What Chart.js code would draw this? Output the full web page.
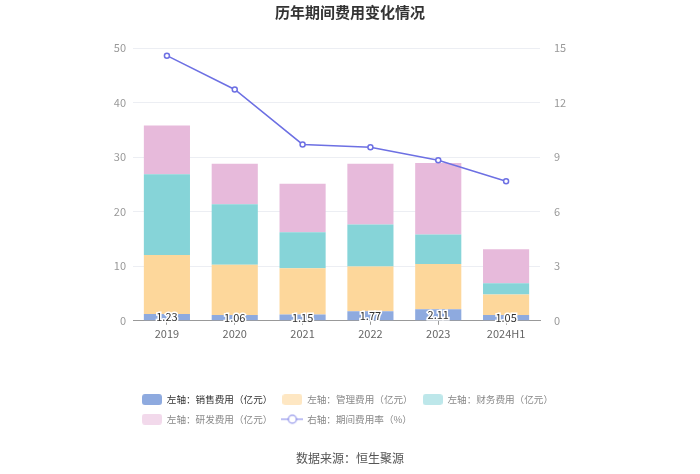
<!DOCTYPE html>
<html>
<head>
<meta charset="utf-8">
<script src="https://cdn.jsdelivr.net/npm/chart.js@4/dist/chart.umd.min.js"></script>
<style>
  html, body { margin: 0; padding: 0; background: #fff; }
  #wrap { width: 700px; height: 474px; }
</style>
</head>
<body>
<div id="wrap"><canvas id="feeChart" width="700" height="474"></canvas></div>
<script>
// --- Data ---
const years = ['2019', '2020', '2021', '2022', '2023', '2024H1'];
const salesFee   = [1.23, 1.06, 1.15, 1.77, 2.11, 1.05];
const adminFee   = [10.85, 9.23, 8.47, 8.16, 8.31, 3.79];
const financeFee = [14.76, 11.09, 6.62, 7.72, 5.39, 2.02];
const rndFee     = [8.95, 7.42, 8.88, 11.15, 13.11, 6.25];
const feeRate    = [14.58, 12.72, 9.70, 9.54, 8.83, 7.67];
const leftTicks  = [0, 10, 20, 30, 40, 50];
const rightTicks = [0, 3, 6, 9, 12, 15];

const FONT = "'Noto Sans CJK SC', 'Noto Sans', sans-serif";
const colors = {
    sales: '#8eaadf',
    admin: '#fdd79b',
    finance: '#86d4d8',
    rnd: '#e7badb',
    line: '#6d70e3'
};

// --- Legend icons (small canvases used as point styles) ---
function boxIcon(color) {
    const c = document.createElement('canvas');
    c.width = 20; c.height = 11;
    const g = c.getContext('2d');
    g.fillStyle = color;
    g.beginPath();
    g.roundRect(0, 0, 20, 11, 3);
    g.fill();
    return c;
}
function lineIcon(color) {
    const c = document.createElement('canvas');
    c.width = 22; c.height = 12;
    const g = c.getContext('2d');
    g.strokeStyle = color;
    g.lineWidth = 1.5;
    g.beginPath(); g.moveTo(0, 6); g.lineTo(22, 6); g.stroke();
    g.fillStyle = '#fff';
    g.beginPath(); g.arc(11, 6, 4, 0, Math.PI * 2); g.fill(); g.stroke();
    return c;
}
const legendIcons = [
    boxIcon(colors.sales),
    boxIcon('rgba(253,215,155,0.6)'),
    boxIcon('rgba(134,212,216,0.55)'),
    boxIcon('rgba(231,186,219,0.55)'),
    lineIcon('rgba(109,112,227,0.6)')
];

// --- Value labels inside the sales bars ---
const salesLabels = {
    id: 'salesLabels',
    afterDatasetsDraw(chart) {
        const meta = chart.getDatasetMeta(0);
        const g = chart.ctx;
        g.save();
        g.font = '11px ' + FONT;
        g.textAlign = 'center';
        g.textBaseline = 'middle';
        g.lineWidth = 3;
        g.strokeStyle = '#fff';
        g.fillStyle = '#333';
        meta.data.forEach((bar, i) => {
            const y = (bar.y + bar.base) / 2;
            const txt = salesFee[i].toFixed(2);
            g.strokeText(txt, bar.x, y);
            g.fillText(txt, bar.x, y);
        });
        g.restore();
    }
};

// --- Line the legend up with the left edge of the plot ---
const legendShift = {
    id: 'legendShift',
    afterLayout(chart) {
        if (chart.legend) chart.legend.left = 132;
    }
};

const ctx = document.getElementById('feeChart').getContext('2d');

new Chart(ctx, {
    type: 'bar',
    data: {
        labels: years,
        datasets: [
            { label: '左轴：销售费用（亿元）', data: salesFee, backgroundColor: colors.sales, yAxisID: 'y', stack: 'fee' },
            { label: '左轴：管理费用（亿元）', data: adminFee, backgroundColor: colors.admin, yAxisID: 'y', stack: 'fee' },
            { label: '左轴：财务费用（亿元）', data: financeFee, backgroundColor: colors.finance, yAxisID: 'y', stack: 'fee' },
            { label: '左轴：研发费用（亿元）', data: rndFee, backgroundColor: colors.rnd, yAxisID: 'y', stack: 'fee' },
            {
                type: 'line',
                label: '右轴：期间费用率（%）',
                data: feeRate,
                yAxisID: 'y1',
                order: -1,
                borderColor: colors.line,
                borderWidth: 1.5,
                pointRadius: 2.5,
                pointBorderWidth: 1.5,
                pointBackgroundColor: '#fff',
                pointBorderColor: colors.line,
                tension: 0,
                fill: false
            }
        ]
    },
    options: {
        responsive: false,
        animation: false,
        layout: { padding: 0 },
        datasets: { bar: { categoryPercentage: 1, barPercentage: 0.68 } },
        plugins: {
            title: {
                display: true,
                text: '历年期间费用变化情况',
                color: '#333',
                font: { family: FONT, size: 15, weight: 'bold' },
                padding: { top: 3, bottom: 27 }
            },
            subtitle: {
                display: true,
                position: 'bottom',
                text: '数据来源：恒生聚源',
                color: '#555',
                font: { family: FONT, size: 12 },
                padding: { top: 17, bottom: 8.6 }
            },
            legend: {
                position: 'bottom',
                align: 'start',
                labels: {
                    usePointStyle: true,
                    pointStyleWidth: 20,
                    boxHeight: 10,
                    padding: 10,
                    font: { family: FONT, size: 9.6 },
                    generateLabels(chart) {
                        return chart.data.datasets.map((ds, i) => ({
                            text: ds.label,
                            pointStyle: legendIcons[i],
                            fontColor: i === 0 ? '#333' : '#888',
                            fillStyle: 'transparent',
                            strokeStyle: 'transparent',
                            lineWidth: 0,
                            hidden: !chart.isDatasetVisible(i),
                            datasetIndex: i
                        }));
                    }
                }
            },
            tooltip: { enabled: false }
        },
        scales: {
            x: {
                stacked: true,
                afterFit(scale) { scale.height = 64; },
                grid: { drawOnChartArea: false, drawTicks: true, tickLength: 4, offset: false, color: '#999' },
                border: { display: true, color: '#999' },
                ticks: { color: '#666', padding: 2, font: { family: FONT, size: 11 } }
            },
            y: {
                stacked: true,
                position: 'left',
                min: 0, max: 50,
                afterFit(scale) { scale.width = 133; },
                afterBuildTicks(scale) { scale.ticks = leftTicks.map(v => ({ value: v })); },
                grid: { color: '#eceef3', drawTicks: false },
                border: { display: false },
                ticks: { color: '#999', padding: 7, font: { family: FONT, size: 11 } }
            },
            y1: {
                position: 'right',
                min: 0, max: 15,
                afterFit(scale) { scale.width = 160; },
                afterBuildTicks(scale) { scale.ticks = rightTicks.map(v => ({ value: v })); },
                grid: { display: false },
                border: { display: false },
                ticks: { color: '#999', padding: 6, font: { family: FONT, size: 11 } }
            }
        }
    },
    plugins: [salesLabels, legendShift]
});
</script>
</body>
</html>
